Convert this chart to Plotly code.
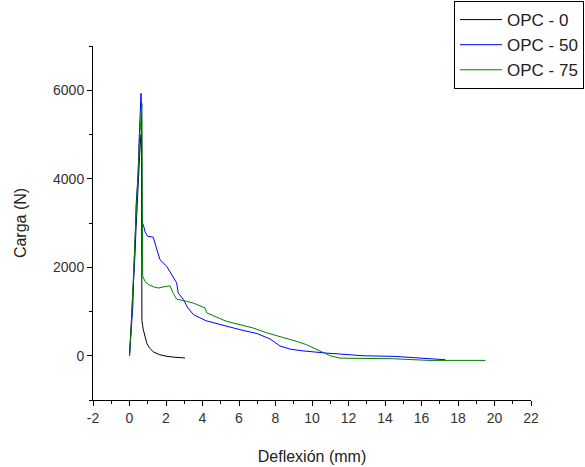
import plotly.graph_objects as go

# OPC - 0
x_opc0 = [0, 0.05, 0.1, 0.15, 0.2, 0.25, 0.3, 0.35, 0.4, 0.45, 0.5, 0.55, 0.6, 0.63, 0.66,
          0.68, 0.75, 0.85, 0.95, 1.1, 1.3, 1.6, 2.0, 2.5, 3.04]
y_opc0 = [0, 350, 700, 1100, 1500, 1900, 2300, 2800, 3300, 3700, 4100, 4500, 4850, 5000, 4800,
          800, 600, 400, 280, 170, 90, 30, -10, -35, -50]

# OPC - 50
x_opc50 = [0, 0.05, 0.12, 0.18, 0.22, 0.27, 0.32, 0.36, 0.42, 0.48, 0.52, 0.56, 0.6, 0.63, 0.66,
           0.68, 0.76, 0.85, 1.0, 1.3, 1.5, 1.67, 2.04, 2.3, 2.58, 2.67, 2.95, 3.2, 3.5, 4.2,
           5.0, 6.05, 7.0, 7.7, 8.25, 8.8, 9.5, 10.07, 10.8, 11.5, 12.8, 14.55, 15.5, 16.8, 17.3]
y_opc50 = [0, 250, 600, 1100, 1700, 2100, 2800, 3400, 3800, 4150, 4800, 5400, 5750, 5930, 5500,
           3000, 2960, 2800, 2700, 2680, 2400, 2170, 2020, 1850, 1650, 1420, 1270, 1080, 930, 790,
           700, 590, 500, 380, 220, 150, 110, 84, 60, 40, 0, -15, -40, -68, -90]

# OPC - 75
x_opc75 = [0, 0.05, 0.1, 0.15, 0.2, 0.25, 0.3, 0.35, 0.4, 0.45, 0.5, 0.55, 0.6, 0.65, 0.68,
           0.7, 0.72, 0.85, 1.03, 1.3, 1.58, 1.9, 2.22, 2.4, 2.58, 3.13, 3.5, 4.14, 4.23, 5.3,
           6.78, 7.5, 7.88, 8.6, 9.2, 9.7, 10.44, 11.0, 11.53, 14.45, 16.4, 19.5]
y_opc75 = [0, 300, 700, 1200, 1700, 2200, 2700, 3200, 3700, 4100, 4500, 4900, 5200, 5500, 5700,
           3500, 1800, 1680, 1610, 1560, 1530, 1560, 1580, 1410, 1280, 1230, 1190, 1080, 970, 780,
           627, 520, 475, 400, 320, 250, 97, 0, -53, -68, -105, -105]

x_tickvals = [-2, 0, 2, 4, 6, 8, 10, 12, 14, 16, 18, 20, 22]
x_ticktext = ["-2", "0", "2", "4", "6", "8", "10", "12", "14", "16", "18", "20", "22"]
y_tickvals = [0, 2000, 4000, 6000]
y_ticktext = ["0", "2000", "4000", "6000"]

series = [
    ("OPC - 0", x_opc0, y_opc0, "#000000"),
    ("OPC - 50", x_opc50, y_opc50, "#0000FF"),
    ("OPC - 75", x_opc75, y_opc75, "#008000"),
]

fig = go.Figure()
for name, xs, ys, col in series:
    fig.add_trace(go.Scatter(x=xs, y=ys, mode="lines", name=name,
                             line=dict(color=col, width=1)))

font_family = "Liberation Sans, Arial, sans-serif"

fig.update_layout(
    width=585, height=467,
    margin=dict(l=93, r=54, t=46, b=67, autoexpand=False),
    paper_bgcolor="white", plot_bgcolor="white",
    font=dict(family=font_family, size=14, color="#333333"),
    showlegend=True,
    legend=dict(x=1.121, y=1.127, xanchor="right", yanchor="top",
                bordercolor="black", borderwidth=1, bgcolor="white",
                font=dict(size=17, color="#222222"),
                tracegroupgap=0, itemwidth=42),
    xaxis=dict(range=[-2, 22], tickmode="array", tickvals=x_tickvals, ticktext=x_ticktext,
               showline=True, linecolor="black",
               linewidth=1, ticks="outside", ticklen=5, tickcolor="black",
               showgrid=False, zeroline=False,
               minor=dict(ticks="outside", ticklen=3, dtick=1, tick0=0, tickcolor="black", showgrid=False),
               title=dict(text="Deflexión (mm)", font=dict(size=16, color="#222222"), standoff=26)),
    yaxis=dict(range=[-1000, 7000], tickmode="array", tickvals=y_tickvals, ticktext=y_ticktext,
               showline=True, linecolor="black",
               linewidth=1, ticks="outside", ticklen=5, tickcolor="black",
               showgrid=False, zeroline=False,
               minor=dict(ticks="outside", ticklen=3, dtick=1000, tick0=0, tickcolor="black", showgrid=False),
               title=dict(text="Carga (N)", font=dict(size=16, color="#222222"), standoff=22)),
)

fig.write_html("out.html")
